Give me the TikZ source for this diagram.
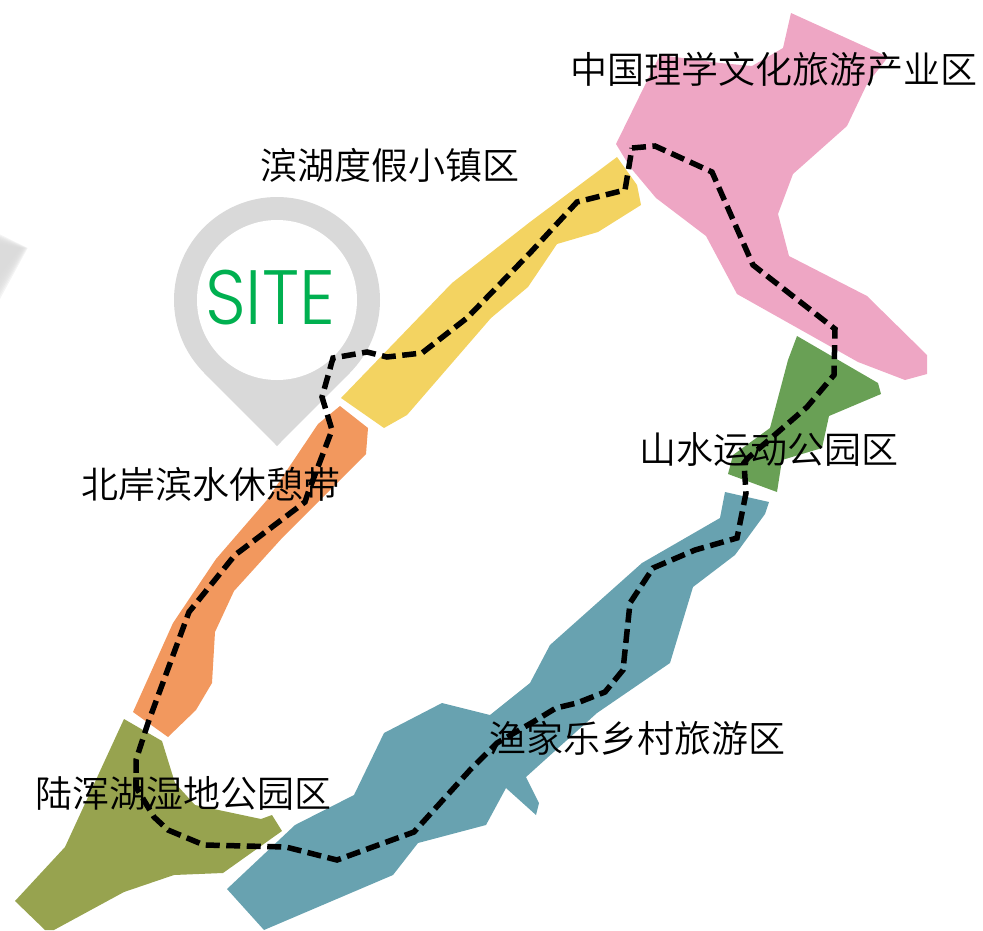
\documentclass[tikz,border=0pt]{standalone}
\usepackage{fontspec}
\newfontfamily\cjk{Noto Sans CJK SC DemiLight}
\newfontfamily\sitefont{Poppins Light}
\definecolor{zpink}{HTML}{EEA6C4}
\definecolor{zyellow}{HTML}{F3D361}
\definecolor{zorange}{HTML}{F2985E}
\definecolor{zolive}{HTML}{97A34F}
\definecolor{zteal}{HTML}{68A2B0}
\definecolor{zgreen}{HTML}{69A055}
\definecolor{zgrey}{HTML}{D9D9D9}
\definecolor{zsite}{HTML}{00B050}
\tikzset{
  zone/.style={fill=#1,draw=none},
  route/.style={draw=black,line width=5.5pt,dash pattern=on 14pt off 6.5pt,line join=miter},
  zonelabel/.style={font=\cjk\fontsize{37}{37}\selectfont,text=black,inner sep=0pt,anchor=center},
  pin/.style={fill=zgrey,draw=none}
}
\begin{document}
\begin{tikzpicture}[x=1pt,y=-1pt]
\useasboundingbox (0,0) rectangle (983,930);
% faded shape at the left edge
\foreach \t in {-3,-2,-1,0,1,2,3,4,5}
  \fill[zgrey,opacity=.28] (0,238+\t*1.2) -- (25-\t*.9,248) -- (0,290-\t*3) -- cycle;
% pin
\fill[pin] (277,300) circle[radius=103];
\fill[pin] (277,446) -- (204.2,373) -- (277,300) -- (349.8,373) -- cycle;
\fill[white] (277,300) circle[radius=80];
\node[inner sep=0pt,text=zsite,font=\sitefont\fontsize{77}{77}\selectfont,xscale=.925] (site) at (270,298) {SITE};
% zones
\fill[zone=zpink] (791,13) -- (888,57) -- (867,84) -- (847,126) -- (793,174) -- (778,214) -- (789,256) -- (867,296) -- (927,355) -- (927,374) -- (905,380) -- (858,362) -- (737,294) -- (706,236) -- (656,198) -- (630,167) -- (616,144) -- (646,83) -- (660,55) -- (720,63) -- (752,66) -- (783,48) -- cycle;
\fill[zone=zyellow] (617,157) -- (637,185) -- (641,205) -- (598,232) -- (557,244) -- (528,287) -- (491,318) -- (407,415) -- (384,428) -- (341,398) -- (452,283) -- (530,222) -- cycle;
\fill[zone=zorange] (340,406) -- (368,428) -- (366,454) -- (283,537) -- (234,591) -- (215,632) -- (212,683) -- (196,710) -- (168,737) -- (133,712) -- (173,623) -- (216,559) -- (267,500) -- (318,424) -- cycle;
\fill[zone=zolive] (124,719) -- (162,741) -- (175,783) -- (195,805) -- (261,819) -- (272,815) -- (282,831) -- (223,873) -- (174,875) -- (124,892) -- (54,930) -- (45,930) -- (15,901) -- (65,847) -- cycle;
\fill[zone=zteal] (725,492) -- (769,502) -- (765,514) -- (735,555) -- (693,587) -- (670,663) -- (597,713) -- (526,777) -- (539,803) -- (536,815) -- (506,788) -- (486,825) -- (418,843) -- (393,875) -- (264,930) -- (227,889) -- (295,825) -- (354,795) -- (384,733) -- (442,703) -- (490,715) -- (530,683) -- (550,645) -- (642,563) -- (720,518) -- cycle;
\fill[zone=zgreen] (797,336) -- (878,383) -- (881,394) -- (829,416) -- (822,448) -- (782,460) -- (777,492) -- (728,474) -- (733,455) -- (770,428) -- (788,360) -- cycle;
% route
\draw[route] (632,148) -- (655,146) -- (712,172) -- (753,265) -- (835,329) -- (834,375) -- (807,407) -- (748,458) -- (744,463) -- (746,493) -- (737,538) -- (695,550) -- (653,568) -- (630,603) -- (623,670) -- (605,692) -- (577,703) -- (556,708) -- (533,722) -- (497,743) -- (470,770) -- (414,832) -- (337,860) -- (286,847) -- (204,845) -- (168,830) -- (154,817) -- (136,787) -- (136,760) -- (148,723) -- (189,612) -- (235,555) -- (305,502) -- (308,493) -- (332,430) -- (322,397) -- (333,358) -- (367,352) -- (387,357) -- (422,353) -- (467,318) -- (530,253) -- (577,202) -- (625,190) -- cycle;
% labels
\node[zonelabel] (l1) at (774,69) {中国理学文化旅游产业区};
\node[zonelabel] (l2) at (389.5,165) {滨湖度假小镇区};
\node[zonelabel] (l3) at (211,484) {北岸滨水休憩带};
\node[zonelabel] (l4) at (768.5,450) {山水运动公园区};
\node[zonelabel] (l5) at (637,738) {渔家乐乡村旅游区};
\node[zonelabel] (l6) at (183.5,793) {陆浑湖湿地公园区};
\end{tikzpicture}
\end{document}
